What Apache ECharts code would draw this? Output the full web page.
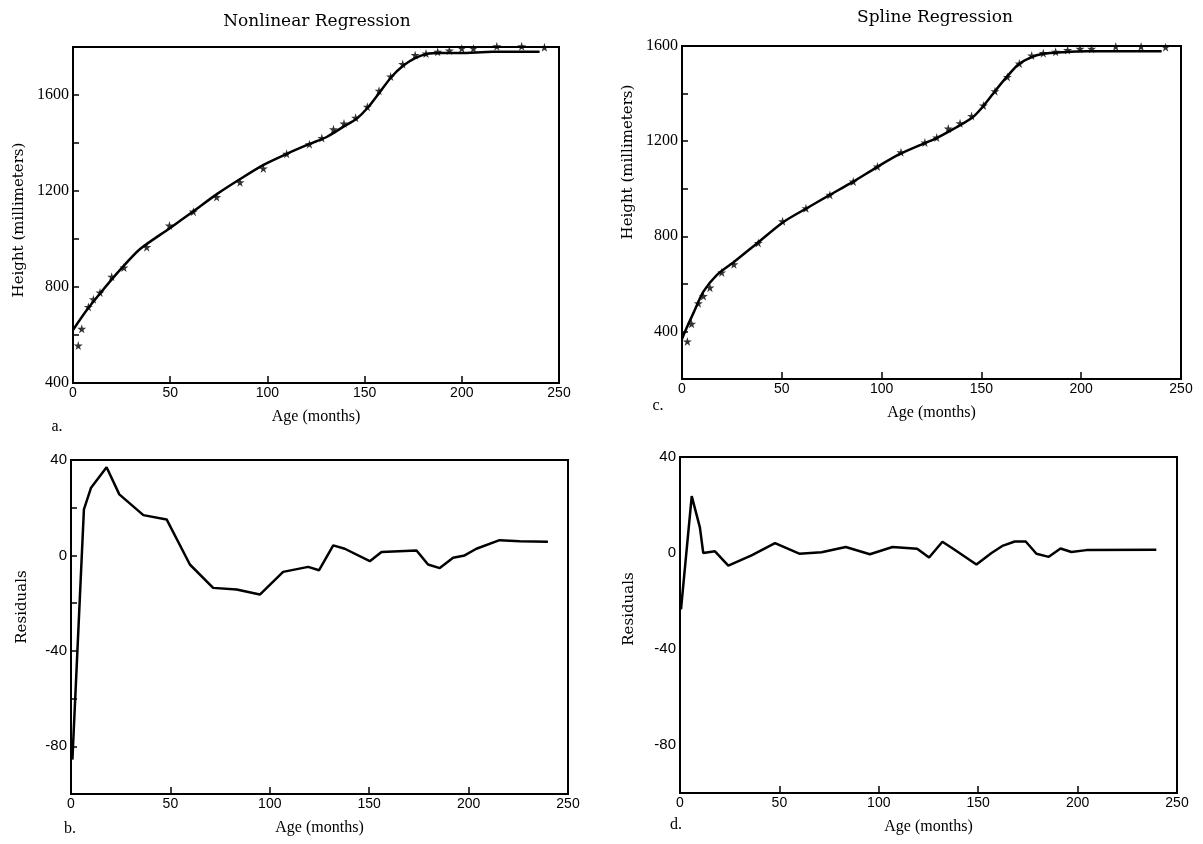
<!DOCTYPE html>
<html>
<head>
<meta charset="utf-8">
<script src="https://cdn.jsdelivr.net/npm/echarts@6/dist/echarts.min.js"></script>
<style>
html,body{margin:0;padding:0;background:#fff;}
#chart{width:1203px;height:844px;}
</style>
</head>
<body>
<div id="chart"></div>
<script>
// ---- Panel a: Nonlinear regression (observed heights, stars)
const obsAgeA = [2.7,4.5,7.9,10.5,13.9,19.9,26.2,37.9,49.6,61.9,73.9,85.9,97.9,109.9,121.6,128,134,139.4,145.4,151.4,157.4,163.4,169.6,176,181.6,187.6,193.6,200,206,218,230.8,242.5];
const obsHeightA = [556,626,717,749,777,843,881,966,1056,1114,1175,1236,1294,1355,1395,1421,1457,1481,1505,1551,1618,1677,1729,1766,1773,1780,1785,1794,1794,1803,1803,1799];
// fitted curve, panel a
const fitAgeA = [0,7,13.9,24.2,34.5,50,62,74,86,98,110,122,130.5,139,146,152,158,164,170,176,182,189,199,216,240];
const fitHeightA = [621,703,773,871,958,1046,1116,1187,1250,1309,1355,1397,1425,1467,1502,1551,1614,1677,1723,1754,1771,1775,1775,1780,1780];

// ---- Panel b: residuals of nonlinear regression
const resAgeB = [0.7,6.5,10.1,17.9,24.3,36.4,48.1,59.8,71.5,83.3,95,106.7,119.3,124.8,131.9,137.7,150.3,156.2,173.8,179.6,185.5,192.2,198,203.9,215.6,225.7,239.9];
const resB = [-85.6,19.3,28.4,37,25.6,16.9,15.1,-3.8,-13.6,-14.3,-16.4,-6.9,-4.8,-6.2,4.2,2.8,-2.4,1.4,2.1,-3.8,-5.3,-1,0,2.8,6.4,5.9,5.7];

// ---- Panel c: Spline regression (observed heights, stars)
const obsAgeC = [2.7,4.8,8.2,10.7,14,19.9,26,38.2,50.4,62.1,74.1,85.8,97.9,109.7,121.7,127.6,133.4,139.3,145.1,151,156.8,163,169,175.2,181,187.2,193.2,199.4,205.2,217.3,230,242.3];
const obsHeightC = [358,432,518,549,584,648,682,772,863,918,974,1030,1093,1153,1194,1215,1253,1275,1306,1350,1410,1470,1526,1560,1570,1576,1583,1588,1588,1598,1598,1595];
// fitted spline, panel c
const fitAgeC = [0,2.3,5.7,10.7,17.4,25.7,37.4,50.8,62.5,74.1,85.8,97.5,109.2,121.7,127.6,134.3,141,146,151,156.8,162.7,168.5,174.3,181,191,202.7,211,240.3];
const fitHeightC = [368,414,477,567,637,690,769,860,918,974,1030,1090,1146,1192,1213,1243,1275,1303,1348,1410,1470,1522,1550,1567,1574,1578,1578,1578];

// ---- Panel d: residuals of spline regression
const resAgeD = [0.5,5.9,10,11.7,17.6,24.3,36,47.8,60,71.2,83.4,95.5,106.9,119.3,125.3,132,137.4,149.1,156.7,162.5,168.4,173.9,179.3,185.5,191.4,196.9,204.4,239.6];
const resD = [-23.5,23.7,10.7,0,0.7,-5.3,-1,4.1,-0.3,0.3,2.5,-0.5,2.5,1.8,-1.9,4.7,1.8,-4.8,0,3.1,4.8,4.8,-0.3,-1.6,1.9,0.4,1.2,1.4];

// ---- Tick label settings
const ageTicks = {min:0, max:250, interval:50};
const heightTicksA = {min:400, max:1800, interval:200, labelStep:400};
const heightTicksC = {min:200, max:1600, interval:200, labelStep:400};
const residTicks = {min:-100, max:40, interval:20, labelStep:40};

const titles = ['Nonlinear Regression','Spline Regression'];
const panelLetters = ['a.','b.','c.','d.'];
const xName = 'Age (months)';
const yNameHeight = 'Height (millimeters)';
const yNameResid = 'Residuals';

const zip = (xs, ys) => xs.map((x,i) => [x, ys[i]]);

const SERIF = '"Liberation Serif", "DejaVu Serif", serif';
const WIDE_SERIF = '"DejaVu Serif", "Liberation Serif", serif';
const SANS = '"Liberation Sans", "DejaVu Sans", sans-serif';
const STAR = 'path://M50,0 L61,35 L98,35 L68,57 L79,91 L50,70 L21,91 L32,57 L2,35 L39,35 Z';

function xAxisCfg(gi){
  return {
    gridIndex: gi, type:'value', min:ageTicks.min, max:ageTicks.max, interval:ageTicks.interval,
    name: xName, nameLocation:'middle', nameGap: 26,
    nameTextStyle:{fontFamily:SERIF, fontSize:16, color:'#000'},
    axisLine:{show:true, onZero:false, lineStyle:{color:'#000', width:2}},
    axisTick:{show:true, inside:true, length:7, lineStyle:{color:'#000', width:1.5}},
    axisLabel:{color:'#000', fontFamily:SANS, fontSize:14, margin:3},
    splitLine:{show:false}
  };
}
function yAxisCfg(gi, t, font, fsize, showTick){
  return {
    gridIndex: gi, type:'value', min:t.min, max:t.max, interval:t.interval,
    axisLine:{show:true, onZero:false, lineStyle:{color:'#000', width:2}},
    axisTick:{show:showTick, inside:true, length:6, lineStyle:{color:'#000', width:1.5}},
    axisLabel:{color:'#000', fontFamily:font, fontSize:fsize, margin:4,
      formatter: v => (v % t.labelStep === 0 && (v !== t.min || t.min % t.labelStep === 0)) ? String(v) : ''},
    splitLine:{show:false}
  };
}

function vText(x, y, text){
  return {type:'text', x:x, y:y, rotation:Math.PI/2,
    style:{text:text, fontFamily:WIDE_SERIF, fontSize:15, fill:'#000', textAlign:'center', textVerticalAlign:'middle'}};
}
function hText(x, y, text, size, font){
  return {type:'text', x:x, y:y,
    style:{text:text, fontFamily:font || SERIF, fontSize:size, fill:'#000', textAlign:'center', textVerticalAlign:'middle'}};
}

const gridStyle = {show:true, borderColor:'#000', borderWidth:2, backgroundColor:'transparent', containLabel:false, outerBoundsMode:'none'};

const option = {
  backgroundColor:'#fff',
  animation:false,
  grid:[
    Object.assign({left:73, top:47, width:486, height:336}, gridStyle),
    Object.assign({left:71, top:460, width:497, height:334}, gridStyle),
    Object.assign({left:682, top:46, width:499, height:333}, gridStyle),
    Object.assign({left:680, top:457, width:497, height:336}, gridStyle)
  ],
  xAxis:[xAxisCfg(0), xAxisCfg(1), xAxisCfg(2), xAxisCfg(3)],
  yAxis:[
    yAxisCfg(0, heightTicksA, SERIF, 16, true),
    yAxisCfg(1, residTicks, SANS, 15, true),
    yAxisCfg(2, heightTicksC, SERIF, 16, true),
    yAxisCfg(3, residTicks, SANS, 15, false)
  ],
  series:[
    {type:'line', xAxisIndex:0, yAxisIndex:0, data:zip(fitAgeA, fitHeightA), smooth:0.25,
      showSymbol:false, lineStyle:{color:'#000', width:2.5}},
    {type:'scatter', xAxisIndex:0, yAxisIndex:0, data:zip(obsAgeA, obsHeightA), symbol:STAR, symbolSize:9,
      itemStyle:{color:'#000'}, clip:false},
    {type:'line', xAxisIndex:1, yAxisIndex:1, data:zip(resAgeB, resB), showSymbol:false,
      lineStyle:{color:'#000', width:2.5}},
    {type:'line', xAxisIndex:2, yAxisIndex:2, data:zip(fitAgeC, fitHeightC), smooth:0.25,
      showSymbol:false, lineStyle:{color:'#000', width:2.5}},
    {type:'scatter', xAxisIndex:2, yAxisIndex:2, data:zip(obsAgeC, obsHeightC), symbol:STAR, symbolSize:9,
      itemStyle:{color:'#000'}, clip:false},
    {type:'line', xAxisIndex:3, yAxisIndex:3, data:zip(resAgeD, resD), showSymbol:false,
      lineStyle:{color:'#000', width:2.5}}
  ],
  graphic:[
    hText(317, 22, titles[0], 17, WIDE_SERIF),
    hText(935, 18, titles[1], 17, WIDE_SERIF),
    vText(19, 220, yNameHeight),
    vText(628, 162, yNameHeight),
    vText(22, 607, yNameResid),
    vText(629, 609, yNameResid),
    hText(57, 427, panelLetters[0], 16),
    hText(70, 829, panelLetters[1], 16),
    hText(658, 406, panelLetters[2], 16),
    hText(676, 825, panelLetters[3], 16)
  ]
};

const chart = echarts.init(document.getElementById('chart'), null, {renderer:'canvas'});
chart.setOption(option);
</script>
</body>
</html>
